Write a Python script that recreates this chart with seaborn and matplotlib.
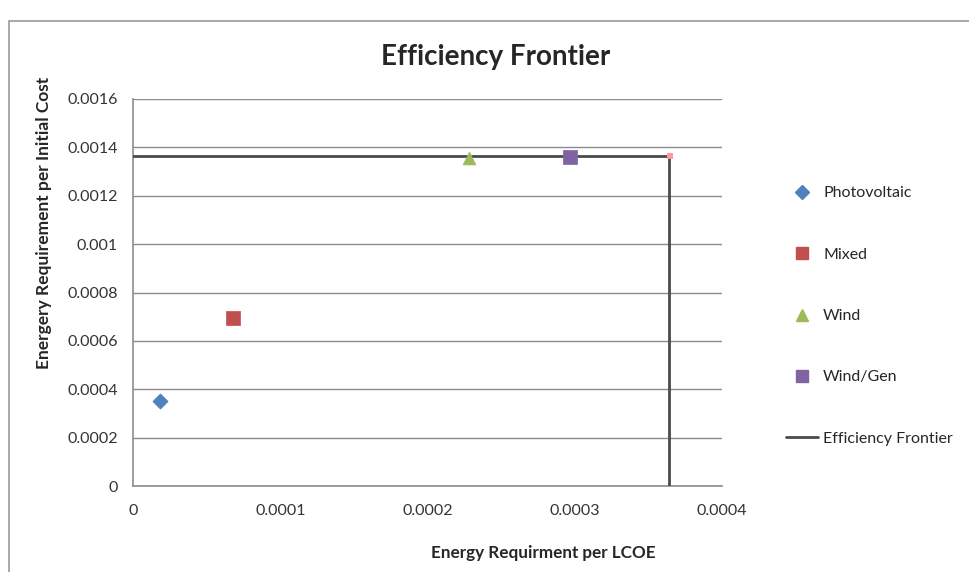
import matplotlib

matplotlib.use("Agg")
import matplotlib.pyplot as plt
import pandas as pd
import seaborn as sns
from matplotlib.lines import Line2D
from matplotlib.patches import Rectangle

# data
series = ["Photovoltaic", "Mixed", "Wind", "Wind/Gen"]
x_vals = [0.0000183, 0.0000679, 0.000228, 0.000297]
y_vals = [0.000352, 0.000695, 0.001355, 0.001362]
frontier_x = [0.0, 0.000364, 0.000364]
frontier_y = [0.001365, 0.001365, 0.0]
corner_x = [0.000365]
corner_y = [0.001365]

colors = ["#4F81BD", "#C0504D", "#9BBB59", "#8064A2"]
markers = ["D", "s", "^", "s"]
sizes = [60, 110, 85, 110]

sns.set_style("white")
plt.rcParams["font.family"] = ["Lato", "DejaVu Sans"]

fig = plt.figure(figsize=(9.69, 5.72), dpi=100)
ax = fig.add_axes([133 / 969, 1 - 486 / 572, 589 / 969, 387 / 572])

# outer chart frame (screenshot border)
fig.patches.append(Rectangle((9 / 969, -0.01), 1.0, 1 - 21 / 572 + 0.01,
                             transform=fig.transFigure, fill=False,
                             edgecolor="#9a9a9a", linewidth=1.2))

df = pd.DataFrame({"x": x_vals, "y": y_vals, "series": series})
for name, c, m, s in zip(series, colors, markers, sizes):
    sub = df[df["series"] == name]
    sns.scatterplot(data=sub, x="x", y="y", ax=ax, color=c, marker=m, s=s,
                    edgecolor=c, linewidth=0.5, zorder=4)

fr = pd.DataFrame({"x": frontier_x, "y": frontier_y})
sns.lineplot(data=fr, x="x", y="y", ax=ax, sort=False, estimator=None,
             color="#4a4a4a", linewidth=2, zorder=3)
ax.scatter(corner_x, corner_y, marker="s", s=18, color="#ff9a9a", zorder=5,
           linewidths=0)

ax.set_xlim(0, 0.0004)
ax.set_ylim(0, 0.0016)
ax.set_xticks([0, 0.0001, 0.0002, 0.0003, 0.0004])
ax.set_xticklabels(["0", "0.0001", "0.0002", "0.0003", "0.0004"])
ax.set_yticks([i * 0.0002 for i in range(9)])
ax.set_yticklabels(["0", "0.0002", "0.0004", "0.0006", "0.0008", "0.001",
                    "0.0012", "0.0014", "0.0016"])
ax.yaxis.grid(True, color="#8c8c8c", linewidth=1)
ax.set_axisbelow(True)
for sp in ["top", "right"]:
    ax.spines[sp].set_visible(False)
ax.spines["left"].set_color("#8c8c8c")
ax.spines["bottom"].set_color("#8c8c8c")
ax.spines["left"].set_linewidth(1.2)
ax.spines["bottom"].set_linewidth(1.2)
ax.tick_params(axis="both", length=5, width=1, color="#8c8c8c",
               labelsize=11.5, labelcolor="#333333", direction="out", pad=6)
ax.tick_params(axis="x", pad=8)

ax.set_xlabel("Energy Requirment per LCOE", fontsize=12.3, fontweight="bold")
ax.xaxis.set_label_coords((543 - 133) / 589, -(545 - 486) / 387)
ax.set_ylabel("Energery Requirement per Initial Cost", fontsize=12.5,
              fontweight="bold")
ax.yaxis.set_label_coords(-(133 - 52) / 589, (486 - 223) / 387)
fig.text(496 / 969, 1 - 57 / 572, "Efficiency Frontier", fontsize=20,
         fontweight="bold", ha="center", va="center")

handles = [Line2D([], [], linestyle="none", marker=m, color=c,
                  markersize=ms, label=n)
           for n, c, m, ms in zip(series, colors, markers, [7, 8, 8, 8])]
handles.append(Line2D([], [], color="#4a4a4a", linewidth=2,
                      label="Efficiency Frontier"))
fig.legend(handles=handles, loc="center left",
           bbox_to_anchor=(772 / 969, 1 - 316 / 572), frameon=False,
           fontsize=11.5, labelspacing=2.95, handlelength=2.0,
           handletextpad=0.3)

fig.savefig("out.png", dpi=100)
